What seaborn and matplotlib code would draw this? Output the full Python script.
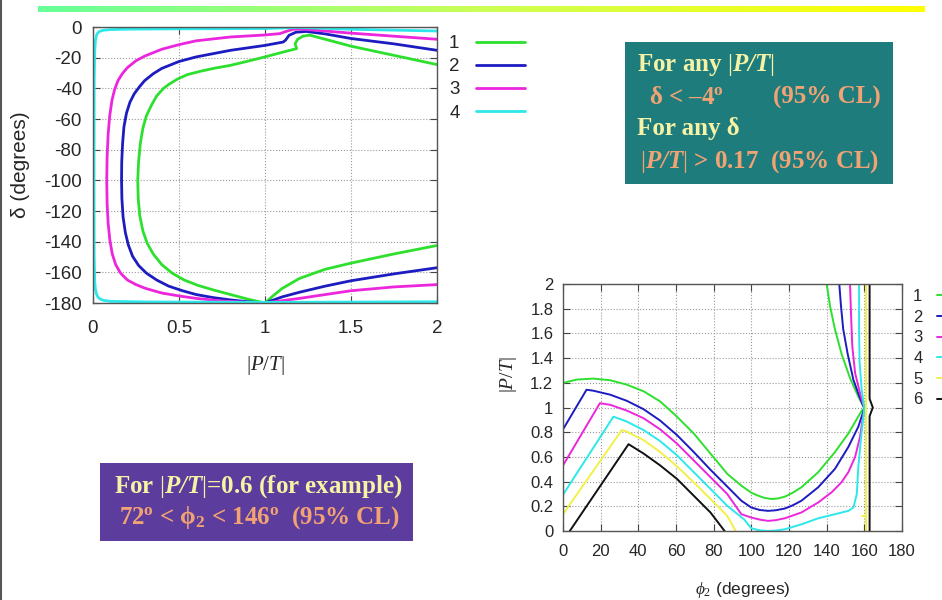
import numpy as np
import pandas as pd
import seaborn as sns
import matplotlib.pyplot as plt
from matplotlib.lines import Line2D
from matplotlib.patches import Rectangle
from matplotlib.colors import LinearSegmentedColormap

# ---- left panel: delta (degrees) vs |P/T| ----
pt1 = [2.0, 1.75, 1.5, 1.35, 1.26, 1.22, 1.19, 1.175, 1.184, 1.1, 1.0, 0.9, 0.8, 0.7, 0.62, 0.55,
       0.49, 0.44, 0.41, 0.37, 0.34, 0.31, 0.29, 0.275, 0.265, 0.26, 0.263, 0.272, 0.29, 0.315, 0.35,
       0.4, 0.46, 0.53, 0.61, 0.7, 0.8, 0.9, 1.0, 1.05, 1.1, 1.2, 1.35, 1.5, 1.75, 2.0]
dl1 = [-24.5, -18.5, -12.5, -8, -5.3, -6, -8, -11, -14.1, -16.5, -19.5, -22.3, -25, -27, -29, -31,
       -34, -37.5, -40, -45, -51, -58, -66, -76, -88, -100, -112, -123, -133, -141, -148,
       -155, -160.5, -165, -168.5, -171.5, -174.5, -177.5, -180, -175, -170.5, -164, -158, -154, -148, -142.5]

pt2 = [2.0, 1.75, 1.5, 1.35, 1.24, 1.18, 1.14, 1.12, 1.106, 1.0, 0.8, 0.6, 0.5, 0.4, 0.35, 0.3,
       0.27, 0.24, 0.215, 0.195, 0.18, 0.172, 0.167, 0.166, 0.168, 0.175, 0.188, 0.205, 0.23, 0.265,
       0.31, 0.37, 0.44, 0.52, 0.6, 0.7, 0.8, 0.9, 1.0, 1.1, 1.2, 1.35, 1.5, 1.75, 2.0]
dl2 = [-15.2, -11, -7.5, -4.5, -2.9, -3.4, -5.4, -8.5, -9.8, -12, -15.2, -19.5, -22.5, -27, -30.5, -35,
       -39, -43.5, -49, -56, -65, -76, -88, -100, -112, -124, -134, -142, -149.5, -155.5,
       -160.5, -165, -169, -172, -174.5, -176.5, -178, -179.2, -180, -176, -173, -169, -165.5, -161, -157]

pt3 = [2.0, 1.75, 1.5, 1.28, 1.2, 1.163, 1.12, 1.087, 1.0, 0.8, 0.6, 0.5, 0.4, 0.3, 0.25, 0.2,
       0.17, 0.145, 0.125, 0.11, 0.097, 0.088, 0.082, 0.08, 0.082, 0.088, 0.098, 0.112, 0.132, 0.16,
       0.2, 0.25, 0.306, 0.4, 0.506, 0.6, 0.75, 0.9, 1.0, 1.2, 1.5, 1.75, 2.0]
dl3 = [-8, -6, -4, -2, -1.3, -1.5, -3, -4.3, -5.2, -6.5, -9, -11.5, -14.5, -19, -22, -26.5,
       -30.5, -35, -41, -48, -58, -70, -85, -100, -115, -128, -139, -148, -155, -160.5,
       -165, -168, -170.5, -173.5, -175.5, -177, -178.7, -179.6, -180, -177, -172, -169.5, -168]

pt4 = [2.0, 1.5, 1.2, 1.0, 0.5, 0.2, 0.1, 0.06, 0.04, 0.028, 0.02, 0.014, 0.01, 0.007, 0.006,
       0.007, 0.01, 0.014, 0.02, 0.028, 0.04, 0.06, 0.1, 0.3, 1.0, 1.5, 2.0]
dl4 = [-2.6, -1.5, -0.3, -1, -1.2, -1.4, -1.7, -2.1, -2.8, -3.8, -5.5, -9, -16, -35, -100,
       -150, -166, -171, -174, -176, -177.3, -178.3, -178.9, -179.3, -179.6, -179.4, -179.2]

# ---- right panel: |P/T| vs phi2 (degrees) ----
ph1 = [0, 7.2, 16.1, 25, 33.9, 42.8, 51.6, 60.5, 69.4, 78.3, 87.2, 94.7, 100, 103.6, 107, 110.7,
       114, 117.8, 122, 126.6, 135.5, 144.4, 151.5, 158.6, 160, 156.8, 152.4, 148, 144.4, 141.8, 140]
pr1 = [1.199, 1.226, 1.234, 1.221, 1.185, 1.131, 1.049, 0.926, 0.79, 0.627, 0.463, 0.367, 0.31, 0.286,
       0.268, 0.259, 0.263, 0.278, 0.31, 0.354, 0.476, 0.639, 0.789, 0.974, 0.993, 1.088, 1.238, 1.43,
       1.633, 1.82, 2.0]

ph2 = [0, 12.5, 16.1, 25, 33.9, 42.8, 51.6, 60.5, 69.4, 78.3, 87.2, 94.7, 100, 104.5, 108.9, 113,
       117.8, 122, 126.6, 135.5, 144.4, 151.5, 156.8, 160, 157.7, 154.2, 151.2, 148.8, 147.6, 146.7]
pr2 = [0.823, 1.144, 1.136, 1.104, 1.054, 0.986, 0.894, 0.777, 0.64, 0.496, 0.36, 0.245, 0.19, 0.17,
       0.163, 0.168, 0.182, 0.208, 0.245, 0.354, 0.503, 0.68, 0.844, 0.993, 1.075, 1.224, 1.43, 1.633,
       1.823, 2.0]

ph3 = [0, 19.6, 25, 33.9, 42.8, 51.6, 60.5, 69.4, 78.3, 87.2, 94.7, 100, 104.5, 108.9, 113, 117.8,
       126.6, 135.5, 142.6, 147.9, 151.5, 155.1, 157.7, 160, 157.7, 155.1, 153.6, 152.9, 152.4]
pr3 = [0.531, 1.035, 1.022, 0.975, 0.913, 0.823, 0.708, 0.572, 0.436, 0.3, 0.136, 0.109, 0.092, 0.082,
       0.088, 0.103, 0.15, 0.231, 0.313, 0.395, 0.476, 0.599, 0.762, 0.993, 1.116, 1.279, 1.497, 1.769,
       2.0]

ph4 = [0, 26.8, 33.9, 42.8, 51.6, 60.5, 69.4, 78.3, 87.2, 96.1, 100, 104.5, 108.9, 113, 117.8, 126.6,
       135.5, 144.4, 151.5, 154.2, 156, 156.8, 158.3, 160, 158.6, 157.5, 157.2, 157.2]
pr4 = [0.294, 0.926, 0.886, 0.817, 0.728, 0.613, 0.477, 0.341, 0.204, 0.095, 0.022, 0.005, 0.0,
       0.004, 0.014, 0.054, 0.103, 0.136, 0.163, 0.19, 0.3, 0.517, 0.762, 0.993, 1.143, 1.36, 1.633, 2.0]

ph5a = [0, 31.2, 33.9, 42.8, 51.6, 60.5, 69.4, 78.3, 87.2, 91.7]
pr5a = [0.136, 0.817, 0.804, 0.736, 0.64, 0.523, 0.395, 0.259, 0.123, 0.0]
ph5b = [158.6, 160.8, 160.8, 160.8]
pr5b = [0.122, 0.122, 0.0, 2.0]

ph6a = [3.6, 34.8, 42.8, 51.6, 60.5, 69.4, 78.3, 85.8]
pr6a = [0.0, 0.703, 0.627, 0.531, 0.422, 0.286, 0.15, 0.0]
ph6b = [162.8, 162.8, 164.5, 162.8, 162.8]
pr6b = [0.0, 0.93, 1.0, 1.07, 2.0]

curve_names = ["1", "2", "3", "4", "5", "6"]
curve_colors = ["#2ee02e", "#1c1cc0", "#ec26dc", "#2ce8ea", "#f2f048", "#111111"]

sns.set_theme(style="ticks")
plt.rcParams['font.family'] = ['Liberation Sans', 'DejaVu Sans']
plt.rcParams['axes.unicode_minus'] = False
plt.rcParams.update({
    'mathtext.fontset': 'custom',
    'mathtext.rm': 'Liberation Serif',
    'mathtext.it': 'Liberation Serif:italic',
    'mathtext.bf': 'Liberation Serif:bold',
    'mathtext.bfit': 'Liberation Serif:italic:bold',
})

left_df = pd.concat([
    pd.DataFrame({'pt': x, 'delta': y, 'curve': c, 'seg': c})
    for x, y, c in [(pt1, dl1, "1"), (pt2, dl2, "2"), (pt3, dl3, "3"), (pt4, dl4, "4")]
])
right_df = pd.concat([
    pd.DataFrame({'phi': x, 'r': y, 'curve': c, 'seg': s})
    for x, y, c, s in [(ph1, pr1, "1", "1"), (ph2, pr2, "2", "2"), (ph3, pr3, "3", "3"),
                       (ph4, pr4, "4", "4"), (ph5a, pr5a, "5", "5a"), (ph5b, pr5b, "5", "5b"),
                       (ph6a, pr6a, "6", "6a"), (ph6b, pr6b, "6", "6b")]
])
pal = dict(zip(curve_names, curve_colors))

fig = plt.figure(figsize=(9.42, 6), dpi=100)
ax1 = fig.add_axes([93/942, 1-303/600, 344/942, 276/600])
ax2 = fig.add_axes([563/942, 1-531/600, 339/942, 247/600])


def gnuplot_look(ax, size, xpad, ypad):
    ax.grid(True, linestyle=':', color='#999999', linewidth=0.8)
    ax.tick_params(direction='in', top=True, right=True, length=5, width=0.8,
                   color='#444444', labelsize=size)
    ax.tick_params(axis='x', pad=xpad)
    ax.tick_params(axis='y', pad=ypad)
    for s in ax.spines.values():
        s.set_color('#555555')
        s.set_linewidth(1.0)


sns.lineplot(data=left_df, x='pt', y='delta', hue='curve', units='seg', estimator=None,
             sort=False, palette=pal, linewidth=2.0, legend=False, ax=ax1)
ax1.set_xlim(0, 2)
ax1.set_ylim(-180, 0)
ax1.set_xticks([0, 0.5, 1, 1.5, 2], ["0", "0.5", "1", "1.5", "2"])
ax1.set_yticks(np.arange(-180, 1, 20), [str(v) for v in range(-180, 1, 20)])
gnuplot_look(ax1, 13.5, 12, 8)
ax1.set_xlabel("$|P/T|$", fontsize=15)
ax1.set_ylabel("δ (degrees)", fontsize=15)
ax1.xaxis.set_label_coords(0.5, -0.183)
ax1.yaxis.set_label_coords(-0.183, 0.5)

sns.lineplot(data=right_df, x='phi', y='r', hue='curve', units='seg', estimator=None,
             sort=False, palette=pal, linewidth=1.4, legend=False, ax=ax2)
ax2.set_xlim(0, 180)
ax2.set_ylim(0, 2)
ax2.set_xticks(np.arange(0, 181, 20))
ax2.set_yticks(np.arange(0, 2.01, 0.2),
               ["0", "0.2", "0.4", "0.6", "0.8", "1", "1.2", "1.4", "1.6", "1.8", "2"])
gnuplot_look(ax2, 12, 9, 7)
ax2.set_xlabel(r"$\phi_2$ (degrees)", fontsize=12.5)
ax2.set_ylabel("$|P/T|$", fontsize=14)
ax2.xaxis.set_label_coords(0.531, -0.198)
ax2.yaxis.set_label_coords(-0.13, 0.632)

# gnuplot style keys (label first, then sample)
h1 = [Line2D([], [], color=c, lw=2.0) for c in curve_colors[:4]]
fig.legend(h1, curve_names[:4], loc='upper left', bbox_to_anchor=(449/942, 1-35/600),
           markerfirst=False, frameon=False, handlelength=2.6, handletextpad=0.9,
           labelspacing=0.32, fontsize=13.5, borderpad=0, borderaxespad=0)
h2 = [Line2D([], [], color=c, lw=1.4) for c in curve_colors]
fig.legend(h2, curve_names, loc='upper left', bbox_to_anchor=(913/942, 1-289/600),
           markerfirst=False, frameon=False, handlelength=3.0, handletextpad=0.9,
           labelspacing=0.34, fontsize=12, borderpad=0, borderaxespad=0)

# title bar gradient and slide edge
bar = fig.add_axes([38/942, 1-12/600, 887/942, 6/600])
bar.imshow(np.linspace(0, 1, 256)[None, :], aspect='auto',
           cmap=LinearSegmentedColormap.from_list('bar', ['#66ff99', '#ccff55', '#ffff00']))
bar.set_axis_off()
fig.add_artist(Line2D([1/942, 1/942], [0, 1], color='#555555', lw=1.5, transform=fig.transFigure))

# annotation boxes
yellow = '#f6f2a6'
orange = '#f2a374'
serif = ['Liberation Serif', 'DejaVu Serif']
fig.add_artist(Rectangle((625/942, 1-184/600), 268/942, 142/600, transform=fig.transFigure,
                         facecolor='#1f7c7c', edgecolor='none'))
fig.add_artist(Rectangle((100/942, 1-541/600), 313/942, 78/600, transform=fig.transFigure,
                         facecolor='#5c3c9c', edgecolor='none'))


def box_text(x, y, s, color, ha='left'):
    fig.text(x/942, 1-y/600, s, color=color, ha=ha, va='center', family=serif,
             weight='bold', fontsize=18)


box_text(637, 65, r"For any $|\mathbfit{P/T}|$", yellow)
box_text(649, 97, r"δ < –4$^\mathbf{o}$", orange)
box_text(773, 97, "(95% CL)", orange)
box_text(637, 129, "For any δ", yellow)
box_text(640, 162, r"$|\mathbfit{P/T}|$ > 0.17  (95% CL)", orange)
box_text(258, 487, r"For $|\mathbfit{P/T}|$=0.6 (for example)", yellow, ha='center')
box_text(259, 518, r"72$^\mathbf{o}$ < $\mathbf{\phi_2}$ < 146$^\mathbf{o}$  (95% CL)", orange, ha='center')

fig.savefig("out.png", dpi=100)
